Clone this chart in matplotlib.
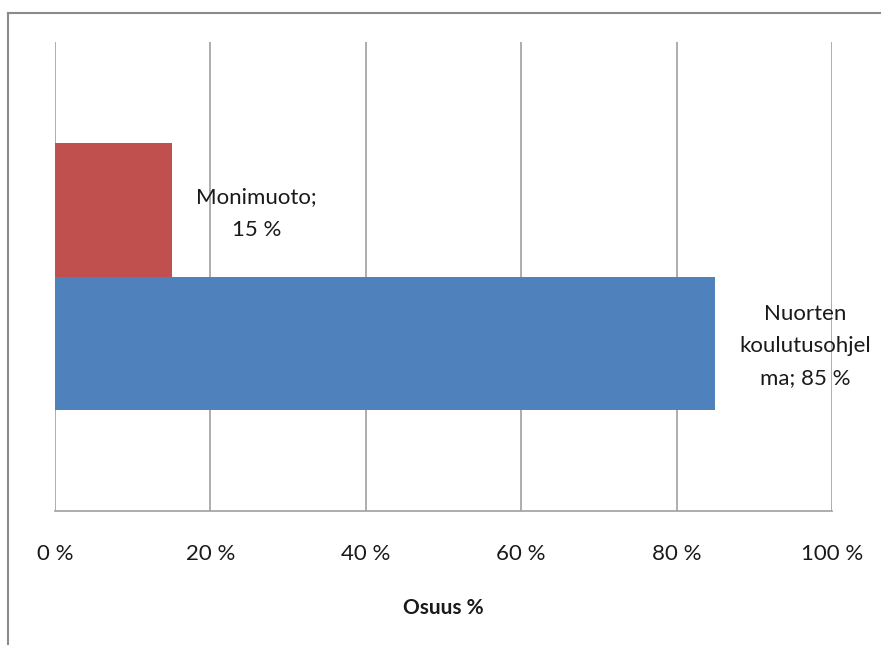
import matplotlib
matplotlib.use("Agg")
import matplotlib.pyplot as plt
from matplotlib.lines import Line2D

series = ["Nuorten koulutusohjelma", "Monimuoto"]
values = [85, 15]
label_texts = ["Nuorten\nkoulutusohjel\nma; 85 %", "Monimuoto;\n15 %"]
colors = ["#4F81BD", "#C0504D"]
ticks = [0, 20, 40, 60, 80, 100]
tick_labels = ["0 %", "20 %", "40 %", "60 %", "80 %", "100 %"]
xlabel = "Osuus %"

W, H = 881, 645
fig = plt.figure(figsize=(W / 100, H / 100), dpi=100)
fig.patch.set_facecolor("white")

# outer chart frame (left and top edges visible)
fig.add_artist(Line2D([8 / W, 8 / W], [0, 1 - 13 / H], transform=fig.transFigure, color="#8a8a8a", lw=1.5))
fig.add_artist(Line2D([8 / W, 1], [1 - 13 / H, 1 - 13 / H], transform=fig.transFigure, color="#8a8a8a", lw=1.5))

left, right, top, bottom = 55, 832, 42, 511
ax = fig.add_axes([left / W, 1 - bottom / H, (right - left) / W, (bottom - top) / H])

bar_h = 0.285
ypos = [0.357, 0.642]
for v, y, c in zip(values, ypos, colors):
    ax.barh(y, v, height=bar_h, color=c, zorder=3)

ax.set_xlim(0, 100)
ax.set_ylim(0, 1)
ax.set_xticks(ticks)
ax.set_xticklabels(tick_labels, fontsize=16, fontfamily="Lato", color="#1a1a1a")
ax.set_yticks([])
ax.tick_params(axis="x", length=0, pad=24)
for s in ["top", "right", "left"]:
    ax.spines[s].set_visible(False)
ax.spines["bottom"].set_color("#a0a0a0")
ax.spines["bottom"].set_linewidth(1.2)
ax.grid(axis="x", color="#a0a0a0", lw=1.2, zorder=1)
ax.set_axisbelow(True)

ax.set_xlabel(xlabel, fontsize=15, fontweight="bold", fontfamily="Lato", labelpad=24, color="#1a1a1a")

# data labels
ax.text(25.9, 0.634, label_texts[1], ha="center", va="center", fontsize=16,
        fontfamily="Lato", color="#1a1a1a", linespacing=1.8, zorder=5)
ax.text(96.5, 0.352, label_texts[0], ha="center", va="center", fontsize=16,
        fontfamily="Lato", color="#1a1a1a", linespacing=1.75, zorder=5, clip_on=False)

fig.savefig("out.png", dpi=100)
